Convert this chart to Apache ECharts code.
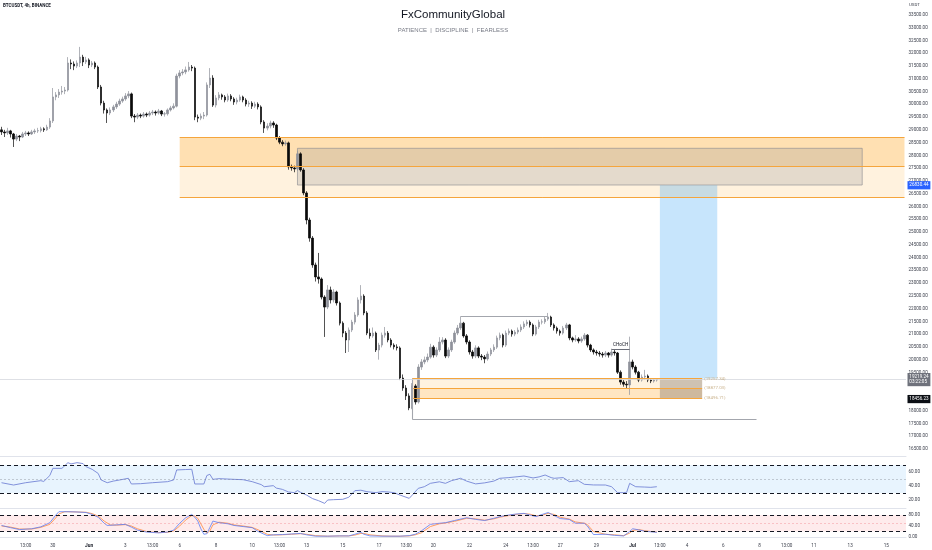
<!DOCTYPE html>
<html><head><meta charset="utf-8">
<script src="https://cdn.jsdelivr.net/npm/echarts@6/dist/echarts.min.js"></script>
<style>html,body{margin:0;padding:0;background:#fff}#c{width:932px;height:550px}</style>
</head><body><div id="c"></div>
<script>
// ---------- DATA ----------
const startTime = Date.UTC(2022, 4, 27, 4); // first 4h candle
const slotCount = 300;                      // visible 4h slots incl. right margin
// [open, close, low, high]
const ohlc = [
[29000,28920,28800,29120],[28920,28880,28720,29000],[28880,28960,28800,29080],[28960,28840,28700,29000],[28840,28640,28330,28880],
[28640,28760,28560,28840],[28760,28720,28560,28800],[28720,28840,28680,28920],[28840,28880,28760,28960],[28880,28840,28760,28940],
[28840,28920,28800,29000],[28920,28960,28840,29040],[28960,28970,28880,29080],[28970,29040,28900,29120],[29040,29000,28920,29100],
[29000,29110,28960,29200],[29110,29350,29040,29460],[29350,30290,29270,30640],[30290,30370,30160,30480],[30370,30480,30250,30600],
[30480,30520,30380,30720],[30520,30560,30400,30680],[30560,31620,30500,31850],[31620,31580,31380,31760],[31580,31500,31340,31680],
[31500,31620,31420,31720],[31620,31850,31460,32250],[31850,31660,31500,31940],[31660,31740,31580,31860],[31740,31540,31420,31800],
[31540,31620,31460,31700],[31620,31460,31380,31680],[31460,30680,30600,31520],[30680,30050,29960,30760],[30050,29780,29640,30140],
[29780,29660,29270,29840],[29660,29780,29580,29880],[29780,29900,29700,29980],[29900,30010,29820,30100],[30010,30130,29940,30220],
[30130,30210,30060,30300],[30210,30330,30140,30440],[30330,30410,30240,30520],[30410,29540,29460,30460],[29540,29500,29300,29620],
[29500,29580,29420,29660],[29580,29540,29460,29640],[29540,29620,29480,29700],[29620,29580,29500,29680],[29580,29660,29520,29740],
[29660,29700,29580,29780],[29700,29660,29560,29760],[29660,29740,29600,29820],[29740,29620,29540,29780],[29620,29630,29520,29700],
[29630,29780,29560,29840],[29780,29860,29720,29940],[29860,29930,29800,30040],[29930,31110,29880,31200],[31110,31230,31020,31340],
[31230,31270,31140,31380],[31270,31350,31180,31480],[31350,31460,31280,31660],[31460,31420,31300,31540],[31420,29500,29380,31480],
[29500,29460,29300,29600],[29460,29540,29380,29640],[29540,29580,29420,29700],[29580,30760,29520,30860],[30760,31030,30640,31420],
[31030,29970,29900,31140],[29970,30250,29880,30360],[30250,30370,30160,30480],[30370,30290,30180,30420],[30290,30170,30080,30360],
[30170,30330,30100,30420],[30330,30210,30120,30400],[30210,30090,29980,30280],[30090,30170,30000,30260],[30170,30290,30100,30380],
[30290,30170,30080,30340],[30170,30010,29920,30240],[30010,30050,29900,30140],[30050,29930,29820,30120],[29930,30010,29860,30100],
[30010,29900,29800,30080],[29900,29310,29220,29960],[29310,29070,28880,29380],[29070,29150,28980,29260],[29150,29270,29060,29360],
[29270,29190,29080,29340],[29190,28680,28600,29240],[28680,28520,28440,28760],[28520,28450,28360,28600],[28450,28490,28380,28580],
[28490,27550,27440,28540],[27550,27510,27400,27640],[27510,27470,27340,27600],[27470,28060,27400,28180],[28060,27430,27360,28120],
[27430,26530,26440,27500],[26530,25470,25300,26600],[25470,24760,24620,25560],[24760,23710,23600,24840],[23710,23240,23060,23800],
[23240,23160,22980,24180],[23160,22450,22360,23220],[22450,22060,20890,22520],[22060,22730,21980,22920],[22730,22340,22200,22860],
[22340,22650,22240,22760],[22650,22220,22120,22700],[22220,21430,21340,22280],[21430,21040,20880,21500],[21040,20770,20260,21120],
[20770,21160,20300,21260],[21160,21470,21080,21560],[21470,21750,21380,21860],[21750,22340,21680,22440],[22340,22490,22200,22920],
[22490,21830,21740,22560],[21830,21040,20960,21900],[21040,20930,20820,21220],[20930,21040,20860,21260],[21040,20380,20300,21100],
[20380,20570,20000,20660],[20570,20960,20480,21060],[20960,21040,20860,21280],[21040,20770,20680,21120],[20770,20570,20480,20840],
[20570,20500,20400,20640],[20500,20460,20360,20600],[20460,19280,19200,20520],[19280,18890,18780,19420],[18890,18580,18420,19000],
[18580,18110,18020,18680],[18110,18970,18060,19080],[18970,18340,18240,19040],[18340,19710,18280,19820],[19710,19910,19600,20020],
[19910,19990,19820,20120],[19990,20100,19900,20240],[20100,20490,20040,20620],[20490,20180,20080,20560],[20180,20380,20100,20480],
[20380,20690,20300,20880],[20690,20770,20600,20880],[20770,20140,20060,20840],[20140,20380,20060,20480],[20380,20690,20300,20780],
[20690,21040,20620,21140],[21040,21240,20960,21360],[21240,21430,21160,21690],[21430,20930,20860,21480],[20930,20690,20600,21000],
[20690,20300,20200,20760],[20300,20140,20040,20380],[20140,20460,20060,20560],[20460,20140,20060,20520],[20140,20100,19980,20220],
[20100,20030,19860,20180],[20030,20220,19960,20320],[20220,20380,20140,20460],[20380,20490,20300,20600],[20490,20850,20420,20940],
[20850,20960,20760,21060],[20960,20570,20480,21020],[20570,21040,20500,21140],[21040,21120,20960,21220],[21120,21000,20900,21180],
[21000,21080,20920,21160],[21080,21160,21000,21260],[21160,21280,21080,21380],[21280,21400,21200,21500],[21400,21470,21320,21560],
[21470,21360,21260,21540],[21360,21000,20920,21420],[21000,21280,20940,21360],[21280,21470,21200,21560],[21470,21480,21380,21580],
[21480,21590,21400,21680],[21590,21670,21520,21830],[21670,21360,21280,21720],[21360,21240,21140,21420],[21240,21120,21020,21300],
[21120,21040,20940,21180],[21040,21240,20980,21320],[21240,21360,21160,21440],[21360,20850,20760,21400],[20850,20770,20680,20900],
[20770,20810,20700,20960],[20810,20730,20640,20880],[20730,20810,20660,20900],[20810,20960,20740,21040],[20960,20570,20480,21000],
[20570,20380,20300,20620],[20380,20300,20200,20440],[20300,20260,20160,20380],[20260,20220,20120,20340],[20220,20180,20080,20300],
[20180,20260,20100,20340],[20260,20180,20080,20300],[20180,20300,20120,20430],[20300,20260,20160,20380],[20260,19510,19440,20300],
[19510,19120,19020,19580],[19120,19040,18940,19200],[19040,19010,18880,19160],[19010,19910,18620,20900],[19910,19710,19620,20000],
[19710,19510,19420,19780],[19510,19200,19120,19560],[19200,19320,19140,19420],[19320,19360,19220,19600],[19360,19200,19120,19420],
[19200,19160,19080,19260],[19160,19200,19100,19280],[19200,19219.24,19140,19280]
];
// RSI [candle index, value]
const rsi = [[0,44.7],[4,41.4],[8,44.7],[13,47.6],[14,46.5],[16,55],[17,65.2],[20,65.2],[22,73.3],[23,71.5],[25,73.3],[27,72],[28,67.6],[30,63.8],[32,58],[33,48.6],[35,44.7],[37,47],[39,48.5],[42,51],[43,42.9],[46,43.3],[50,44.7],[55,46.2],[57,48.6],[58,62.9],[61,63.5],[63,63.8],[64,42.9],[67,42.9],[68,55],[69,56.7],[70,49.5],[72,50.5],[77,49.5],[80,49],[83,46.2],[86,42],[87,39],[90,40.5],[91,37],[93,35.2],[95,31.5],[97,30.5],[98,33.5],[99,31],[101,27.1],[103,22],[105,19],[107,15.2],[108,20],[110,20.5],[113,21],[115,24],[117,33.3],[119,34],[121,31.9],[124,30.5],[126,32],[128,31.5],[130,30.5],[132,27],[135,22.4],[136,27],[138,36.7],[140,39],[142,43.8],[145,46],[147,43.8],[149,47.6],[152,51],[154,47],[157,43],[160,44.5],[163,47],[165,51],[168,52],[171,53.3],[173,54.3],[176,51.5],[178,53],[180,55.7],[182,52],[183,51],[186,52],[188,46.2],[191,47.6],[193,42.4],[196,41.5],[200,41.4],[202,39],[204,30.5],[206,30.5],[207,31],[208,43.8],[210,39],[213,38.5],[215,38.1],[217,39]];
// Stochastic %K and %D [candle index, value]
const stochK = [[0,42],[3,34],[6,27],[10,30],[13,37],[16,52],[18,80],[19,92],[22,92],[25,91],[28,89],[30,82],[32,72],[34,50],[35,42],[38,44],[41,46],[43,36],[45,25],[48,18],[52,15],[55,18],[57,25],[59,50],[61,70],[63,82],[64,72],[65,58],[66,30],[67,10],[68,12],[69,35],[70,58],[72,52],[75,48],[77,42],[80,38],[83,34],[85,20],[88,5],[90,8],[93,9],[96,11],[99,13],[101,8],[104,3],[108,3],[112,4],[115,4],[117,10],[119,17],[120,10],[122,4],[126,3],[129,3],[132,3],[135,5],[137,10],[139,22],[142,46],[145,50],[147,52],[150,60],[154,70],[157,64],[160,60],[163,68],[165,74],[168,80],[170,83],[173,86],[175,80],[177,74],[179,82],[181,89],[183,78],[185,67],[188,64],[190,50],[193,50],[194,40],[196,9],[200,10],[203,6],[206,4],[208,20],[209,30],[211,26],[213,21],[215,19],[217,17]];
const stochD = [[0,40],[3,36],[6,29],[10,29],[13,35],[16,46],[18,70],[19,84],[21,92],[25,91],[28,90],[30,85],[32,76],[34,58],[36,44],[38,43],[41,45],[43,40],[45,30],[48,20],[52,16],[55,17],[57,22],[59,40],[61,62],[63,78],[64,76],[65,68],[66,48],[67,28],[68,14],[69,22],[70,44],[72,54],[75,50],[77,44],[80,40],[83,35],[85,26],[88,10],[90,7],[93,8],[96,10],[99,12],[101,10],[104,5],[108,3],[112,4],[115,4],[117,7],[119,13],[120,13],[122,8],[126,4],[129,3],[132,3],[135,4],[137,8],[139,15],[142,38],[145,48],[147,51],[150,57],[154,68],[157,66],[160,61],[163,66],[165,72],[168,78],[170,82],[173,85],[175,83],[177,77],[179,79],[181,86],[183,82],[185,72],[188,65],[190,55],[193,50],[194,45],[196,20],[200,10],[203,8],[206,5],[208,14],[209,24],[211,27],[213,23],[215,20],[217,18]];
// tick labels
const xTickLabels = [[8,'13:00'],[17,'30'],[29,'Jun'],[41,'3'],[50,'13:00'],[59,'6'],[71,'8'],[83,'10'],[92,'13:00'],[101,'13'],[113,'15'],[125,'17'],[134,'13:00'],[143,'20'],[155,'22'],[167,'24'],[176,'13:00'],[185,'27'],[197,'29'],[209,'Jul'],[218,'13:00'],[227,'4'],[239,'6'],[251,'8'],[260,'13:00'],[269,'11'],[281,'13'],[293,'15']];
const priceTicks = [16500,17000,17500,18000,18500,19000,19500,20000,20500,21000,21500,22000,22500,23000,23500,24000,24500,25000,25500,26000,26500,27000,27500,28000,28500,29000,29500,30000,30500,31000,31500,32000,32500,33000,33500];
const rsiTicks = [20, 40, 60];
const stochTicks = [0, 40, 80];
// drawing levels (prices) and anchors (candle indices)
const upperZone = [28709, 27558, 26343];
const upperZoneIdx = [59, 299];
const supplyBox = [28278, 26840];
const supplyBoxIdx = [98, 285];
const lowerZone = [19257.34, 18877.03, 18496.71];
const lowerZoneIdx = [136, 232];
const liquidityLow = 17675;
const liquidityIdx = [136, 250];
const swingHigh = 21690;
const swingIdx = [152, 181];
const chochLevel = 20416;
const chochIdx = [202, 208];
const positionIdx = [218, 237, 232];
const targetPrice = 26830.44;
const stopPrice = 18456.23;
const lastPrice = 19219.24;
const countdown = '03:22:05';

// ---------- CHART ----------
const categories = [];
for (let i = 0; i < slotCount; i++) {
  categories.push(new Date(startTime + i * 4 * 3600 * 1000).toISOString().slice(0, 13) + ':00');
}
const labelAt = {};
xTickLabels.forEach(([i, t]) => { labelAt[i] = t; });
const FONT = 'Roboto, "Liberation Sans", sans-serif';
const axisFont = { fontSize: 4.6, color: '#3a3e4a', fontFamily: FONT };

const chart = echarts.init(document.getElementById('c'), null, { renderer: 'canvas' });

const gridDefs = [
  { left: 0, right: 26, top: 0, height: 456 },
  { left: 0, right: 26, top: 457, height: 51 },
  { left: 0, right: 26, top: 509, height: 32 }
];
const xAxes = gridDefs.map((g, k) => ({
  type: 'category', gridIndex: k, data: categories, boundaryGap: true,
  axisTick: { show: false },
  axisLine: { show: true, lineStyle: { color: '#e0e3eb', width: 1 } },
  splitLine: { show: false },
  axisLabel: k === 2 ? {
    show: true, margin: 2.5, ...axisFont,
    interval: (idx) => labelAt[idx] !== undefined,
    formatter: (v, idx) => (labelAt[idx] === 'Jun' || labelAt[idx] === 'Jul') ? '{b|' + labelAt[idx] + '}' : (labelAt[idx] || ''),
    rich: { b: { fontWeight: 'bold', fontSize: 4.8, color: '#131722', fontFamily: FONT } }
  } : { show: false }
}));
function yAx(k, min, max, ticks) {
  return {
    type: 'value', gridIndex: k, position: 'right', min, max, scale: true,
    splitLine: { show: false }, axisLine: { show: false }, axisTick: { show: false },
    axisLabel: { show: true, customValues: ticks, margin: 2.5, ...axisFont, formatter: v => v.toFixed(2) }
  };
}
const yAxes = [yAx(0, 16226, 34087, priceTicks), yAx(1, 8.6, 81.4, rsiTicks), yAx(2, -14.5, 101.8, stochTicks)];

const seg = (x1, y1, x2, y2, style, label) => [
  { coord: [x1, y1], lineStyle: style, label: label || { show: false } },
  { coord: [x2, y2] }
];
const orangeLine = { color: '#f5a53c', width: 1, type: 'solid' };
const greyLine = { color: '#a3a6ad', width: 1.1, type: 'solid' };
const zoneLabel = (txt) => ({ show: true, position: 'end', distance: 2, formatter: txt, fontSize: 4.4, color: '#c9b28c', fontFamily: FONT });
const tag = (v, txt, bg, lineStyle) => ({
  yAxis: v, lineStyle,
  label: { show: true, position: 'end', distance: 1.5, formatter: txt, backgroundColor: bg, color: '#fff',
           fontSize: 4.6, padding: [1.6, 1.8], lineHeight: 5, fontFamily: FONT }
});

const option = {
  animation: false,
  backgroundColor: '#ffffff',
  grid: gridDefs,
  xAxis: xAxes,
  yAxis: yAxes,
  graphic: [
    { type: 'text', x: 453, y: 15, style: { text: 'FxCommunityGlobal', fontSize: 11.5, fill: '#131722', fontFamily: '"Liberation Sans", Arial, sans-serif', textAlign: 'center', textVerticalAlign: 'middle' } },
    { type: 'text', x: 453, y: 30.7, style: { text: 'PATIENCE  |  DISCIPLINE  |  FEARLESS', fontSize: 6, fill: '#787b86', fontFamily: '"Liberation Sans", Arial, sans-serif', textAlign: 'center', textVerticalAlign: 'middle' } },
    { type: 'text', x: 3, y: 5.8, style: { text: 'BTCUSDT, 4h, BINANCE', fontSize: 4.5, fontWeight: 'bold', fill: '#131722', fontFamily: FONT, textVerticalAlign: 'middle' } },
    { type: 'text', x: 909, y: 5, style: { text: 'USDT', fontSize: 4.4, fill: '#3a3e4a', fontFamily: FONT, textVerticalAlign: 'middle' } }
  ],
  series: [
    {
      type: 'candlestick', xAxisIndex: 0, yAxisIndex: 0, data: ohlc, barWidth: 2,
      itemStyle: { color: '#8f929b', color0: '#0a0a0a', borderColor: '#8f929b', borderColor0: '#0a0a0a', borderWidth: 0.7 },
      markArea: {
        silent: true,
        data: [
          [{ coord: [upperZoneIdx[0], upperZone[0]], itemStyle: { color: 'rgba(255,152,0,0.30)' } }, { coord: [upperZoneIdx[1], upperZone[1]] }],
          [{ coord: [upperZoneIdx[0], upperZone[1]], itemStyle: { color: 'rgba(255,152,0,0.13)' } }, { coord: [upperZoneIdx[1], upperZone[2]] }],
          [{ coord: [supplyBoxIdx[0], supplyBox[0]], itemStyle: { color: 'rgba(120,123,134,0.20)', borderColor: 'rgba(140,140,145,0.7)', borderWidth: 0.9 } }, { coord: [supplyBoxIdx[1], supplyBox[1]] }],
          [{ coord: [lowerZoneIdx[0], lowerZone[0]], itemStyle: { color: 'rgba(255,167,38,0.14)' } }, { coord: [lowerZoneIdx[1], lowerZone[1]] }],
          [{ coord: [lowerZoneIdx[0], lowerZone[1]], itemStyle: { color: 'rgba(255,152,0,0.24)' } }, { coord: [lowerZoneIdx[1], lowerZone[2]] }],
          [{ coord: [positionIdx[0], lowerZone[0]], itemStyle: { color: 'rgba(33,150,243,0.25)' } }, { coord: [positionIdx[1], targetPrice] }],
          [{ coord: [positionIdx[0], stopPrice], itemStyle: { color: 'rgba(105,95,85,0.33)' } }, { coord: [positionIdx[2], lowerZone[0]] }]
        ]
      },
      markLine: {
        silent: true, symbol: ['none', 'none'], label: { show: false },
        data: [
          seg(upperZoneIdx[0], upperZone[0], upperZoneIdx[1], upperZone[0], orangeLine),
          seg(upperZoneIdx[0], upperZone[1], upperZoneIdx[1], upperZone[1], orangeLine),
          seg(upperZoneIdx[0], upperZone[2], upperZoneIdx[1], upperZone[2], orangeLine),
          seg(lowerZoneIdx[0], lowerZone[0], lowerZoneIdx[1], lowerZone[0], orangeLine, zoneLabel('(' + lowerZone[0].toFixed(2) + ')')),
          seg(lowerZoneIdx[0], lowerZone[1], lowerZoneIdx[1], lowerZone[1], orangeLine, zoneLabel('(' + lowerZone[1].toFixed(2) + ')')),
          seg(lowerZoneIdx[0], lowerZone[2], lowerZoneIdx[1], lowerZone[2], orangeLine, zoneLabel('(' + lowerZone[2].toFixed(2) + ')')),
          seg(liquidityIdx[0], lowerZone[0], liquidityIdx[0], liquidityLow, greyLine),
          seg(liquidityIdx[0], liquidityLow, liquidityIdx[1], liquidityLow, greyLine),
          seg(swingIdx[0], swingHigh, swingIdx[1], swingHigh, greyLine),
          seg(chochIdx[0], chochLevel, chochIdx[1], chochLevel, { color: '#6a6d78', width: 1, type: 'solid' },
              { show: true, position: 'insideMiddleTop', distance: 1.5, formatter: 'CHoCH', fontSize: 4.6, color: '#131722', fontFamily: FONT }),
          tag(lastPrice, lastPrice.toFixed(2) + '\n' + countdown, '#6f727c', { color: '#d6d8de', width: 0.8, type: 'solid' }),
          tag(targetPrice, targetPrice.toFixed(2), '#2962ff', { color: 'rgba(0,0,0,0)', width: 0 }),
          tag(stopPrice, stopPrice.toFixed(2), '#0b0e14', { color: 'rgba(0,0,0,0)', width: 0 })
        ]
      }
    },
    {
      type: 'line', xAxisIndex: 1, yAxisIndex: 1, data: rsi, showSymbol: false, smooth: false,
      lineStyle: { color: '#7485d6', width: 0.9 },
      markArea: { silent: true, data: [[{ yAxis: 30, itemStyle: { color: 'rgba(33,150,243,0.10)' } }, { yAxis: 70 }]] },
      markLine: {
        silent: true, symbol: ['none', 'none'], label: { show: false },
        data: [
          { yAxis: 70, lineStyle: { color: '#131722', width: 1, type: [4, 3] } },
          { yAxis: 30, lineStyle: { color: '#131722', width: 1, type: [4, 3] } },
          { yAxis: 50, lineStyle: { color: 'rgba(120,123,134,0.6)', width: 0.6, type: [2, 2] } }
        ]
      }
    },
    {
      type: 'line', xAxisIndex: 2, yAxisIndex: 2, data: stochD, showSymbol: false,
      lineStyle: { color: '#ff8a3d', width: 0.8 },
      markArea: { silent: true, data: [[{ yAxis: 20, itemStyle: { color: 'rgba(242,54,69,0.10)' } }, { yAxis: 80 }]] },
      markLine: {
        silent: true, symbol: ['none', 'none'], label: { show: false },
        data: [
          { yAxis: 80, lineStyle: { color: '#131722', width: 1, type: [4, 3] } },
          { yAxis: 20, lineStyle: { color: '#131722', width: 1, type: [4, 3] } },
          { yAxis: 50, lineStyle: { color: 'rgba(242,120,130,0.6)', width: 0.6, type: [2, 2] } }
        ]
      }
    },
    {
      type: 'line', xAxisIndex: 2, yAxisIndex: 2, data: stochK, showSymbol: false,
      lineStyle: { color: '#5b7cf5', width: 0.8 }
    }
  ]
};
chart.setOption(option);
</script>
</body></html>
